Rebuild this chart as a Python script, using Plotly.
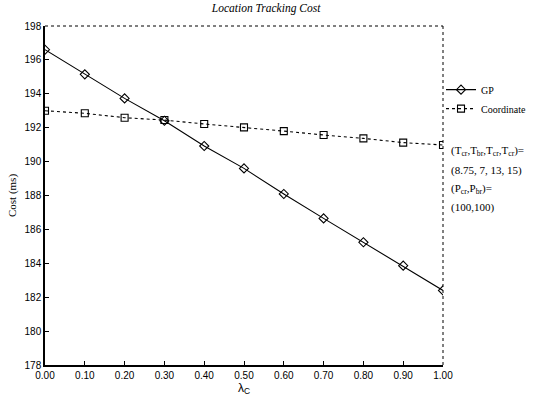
import plotly.graph_objects as go

# lambda_C values on the x axis
lam = [0.0, 0.1, 0.2, 0.3, 0.4, 0.5, 0.6, 0.7, 0.8, 0.9, 1.0]
x_tick_labels = ["0.00", "0.10", "0.20", "0.30", "0.40", "0.50",
                 "0.60", "0.70", "0.80", "0.90", "1.00"]

# location tracking cost (ms) for each scheme
gp_cost = [196.6, 195.15, 193.73, 192.41, 190.92, 189.60,
           188.09, 186.65, 185.24, 183.86, 182.4]
coord_cost = [193.0, 192.85, 192.59, 192.45, 192.22, 192.02,
              191.8, 191.57, 191.37, 191.12, 190.98]

y_ticks = [178, 180, 182, 184, 186, 188, 190, 192, 194, 196, 198]

param_lines = [
    "(T<sub>cr</sub>,T<sub>br</sub>,T<sub>cr</sub>,T<sub>cr</sub>)=",
    "(8.75, 7, 13, 15)",
    "(P<sub>cr</sub>,P<sub>br</sub>)=",
    "(100,100)",
]

SERIF = "Liberation Serif, Times New Roman, serif"
NARROW = "Liberation Sans Narrow, Liberation Sans, Arial, sans-serif"

fig = go.Figure()
fig.add_trace(go.Scatter(
    x=lam, y=gp_cost, name="GP", mode="lines+markers",
    line=dict(color="black", width=1.1),
    marker=dict(symbol="diamond-open", size=7, color="black",
                line=dict(width=1.1, color="black")),
))
fig.add_trace(go.Scatter(
    x=lam, y=coord_cost, name="Coordinate", mode="lines+markers",
    line=dict(color="black", width=1.1, dash="dot"),
    marker=dict(symbol="square-open", size=7, color="black",
                line=dict(width=1.1, color="black")),
))

# dotted top and right frame
fig.add_shape(type="line", xref="x domain", yref="y domain",
              x0=0, x1=1, y0=1, y1=1,
              line=dict(color="black", width=1, dash="dot"))
fig.add_shape(type="line", xref="x domain", yref="y domain",
              x0=1, x1=1, y0=0, y1=1,
              line=dict(color="black", width=1, dash="dot"))

# parameter notes beside the plot
for i, txt in enumerate(param_lines):
    fig.add_annotation(
        text=txt, xref="paper", yref="paper",
        x=1.015, y=0.63 - i * 0.055, xanchor="left", yanchor="middle",
        showarrow=False, font=dict(family=SERIF, size=11, color="black"),
    )

fig.update_layout(
    width=543, height=403,
    margin=dict(l=45, r=83, t=26, b=38),
    paper_bgcolor="white", plot_bgcolor="white",
    title=dict(text="<i>Location Tracking Cost</i>", x=0.49, xanchor="center",
               y=0.99, yanchor="top",
               font=dict(family=SERIF, size=11.5, color="black")),
    showlegend=True,
    legend=dict(x=0.995, y=0.855, xanchor="left", yanchor="top",
                bgcolor="rgba(0,0,0,0)", tracegroupgap=0,
                font=dict(family=SERIF, size=10, color="black"),
                itemwidth=30),
    xaxis=dict(
        range=[0, 1], tickmode="array", tickvals=lam, ticktext=x_tick_labels,
        showline=True, linecolor="black", linewidth=1.5,
        ticks="inside", ticklen=4, tickcolor="black",
        showgrid=False, zeroline=False,
        tickfont=dict(family=NARROW, size=10, color="black"),
        title=dict(text="λ<sub>C</sub>", standoff=2,
                   font=dict(family=NARROW, size=12, color="black")),
    ),
    yaxis=dict(
        range=[178, 198], tickmode="array", tickvals=y_ticks,
        showline=True, linecolor="black", linewidth=1.5,
        ticks="inside", ticklen=4, tickcolor="black",
        showgrid=False, zeroline=False,
        tickfont=dict(family=NARROW, size=10, color="black"),
        title=dict(text="Cost (ms)", standoff=6,
                   font=dict(family=SERIF, size=11, color="black")),
    ),
)

fig.write_html("out.html")
